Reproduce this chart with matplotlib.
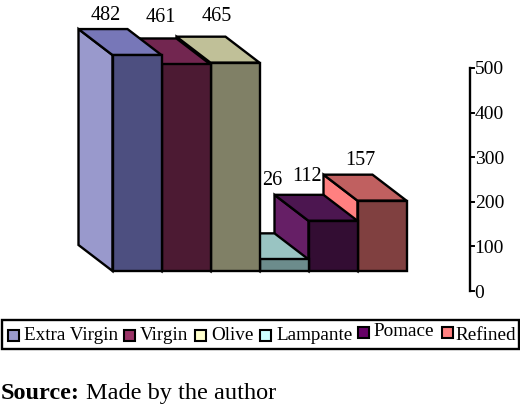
import matplotlib
matplotlib.use("Agg")
import matplotlib.pyplot as plt
from matplotlib.patches import Polygon, Rectangle

categories = ["Extra Virgin", "Virgin", "Olive", "Lampante", "Pomace", "Refined"]
values = [482, 461, 465, 26, 112, 157]
front_colors = ["#4D4F80", "#4C1A33", "#808066", "#6C8C8C", "#330D33", "#804040"]
side_colors = ["#9999CC", "#7A2952", "#C8C8A0", "#99C4C2", "#661F66", "#FF8080"]
top_colors = ["#7777B8", "#722650", "#C0C098", "#99C4C2", "#4C1650", "#C06060"]
legend_colors = ["#9999CC", "#993366", "#FFFFCC", "#CCFFFF", "#660066", "#FF8080"]
ticks = [0, 100, 200, 300, 400, 500]

plt.rcParams["font.family"] = ["Liberation Serif", "DejaVu Serif"]
W, H = 520, 407
fig = plt.figure(figsize=(W / 100, H / 100), dpi=100)

# Main plotting axes: x in category units, y in value units
x0_px, bar_px, y0_px, unit_px = 112.5, 49.0, 271.0, 0.448
ax = fig.add_axes([0, 0, 1, 1])
ax.set_xlim(-x0_px / bar_px, (W - x0_px) / bar_px)
ax.set_ylim(-(H - y0_px) / unit_px, y0_px / unit_px)
ax.axis("off")
depth_x = -34 / bar_px
depth_y = 26 / unit_px

edge = dict(edgecolor="black", linewidth=1.7, joinstyle="miter")
for i in range(len(values) - 1, -1, -1):
    v = values[i]
    l, r = i, i + 1
    ax.add_patch(Polygon([(l, 0), (l + depth_x, depth_y), (l + depth_x, v + depth_y), (l, v)],
                         facecolor=side_colors[i], **edge))
    ax.add_patch(Polygon([(l, v), (l + depth_x, v + depth_y), (r + depth_x, v + depth_y), (r, v)],
                         facecolor=top_colors[i], **edge))
    ax.add_patch(Rectangle((l, 0), 1, v, facecolor=front_colors[i], **edge))

label_offsets = [(-31, 40), (-25, 47), (-18.5, 46), (-11.5, 79), (-25.5, 44), (-21.5, 40)]
for i, v in enumerate(values):
    dx, dy = label_offsets[i]
    ax.annotate(str(v), xy=(i + 0.5, v), xytext=(dx, dy),
                textcoords="offset pixels", ha="center", va="center", fontsize=14.5)

# Value axis on the right
axr = fig.add_axes([470 / W, 1 - 291 / H, 4 / W, 223 / H])
axr.set_ylim(0, 500)
axr.set_xlim(0, 1)
axr.set_xticks([])
axr.set_yticks(ticks)
axr.patch.set_visible(False)
for s in ("right", "top", "bottom"):
    axr.spines[s].set_visible(False)
axr.spines["left"].set_linewidth(1.7)
axr.yaxis.tick_right()
axr.tick_params(axis="y", direction="in", length=0, pad=0.5, labelsize=14)
for t in ticks:
    axr.plot([0, 1], [t, t], color="black", lw=1.4, clip_on=False)

# Legend and source, in pixel coordinates
px = fig.add_axes([0, 0, 1, 1])
px.set_xlim(0, W)
px.set_ylim(H, 0)
px.axis("off")
px.add_patch(Rectangle((1.5, 319.5), 517, 29, facecolor="white", edgecolor="black", linewidth=1.7))
swatch_x = [8, 124, 195, 260, 358, 442]
swatch_y = [329.5, 329.5, 329.5, 329.5, 326.5, 326.5]
text_x = [24, 140, 211, 276, 373, 455]
text_y = [335, 335, 335, 335, 332, 335]
for i, name in enumerate(categories):
    px.add_patch(Rectangle((swatch_x[i], swatch_y[i]), 11, 11, facecolor=legend_colors[i],
                           edgecolor="black", linewidth=1.5))
    px.text(text_x[i], text_y[i], name, ha="left", va="center", fontsize=13.8)

px.text(1, 399, "Source:", fontweight="bold", fontsize=17.5, ha="left", va="baseline")
px.text(86, 399, "Made by the author", fontsize=17.5, ha="left", va="baseline")

fig.savefig("out.png", dpi=100)
